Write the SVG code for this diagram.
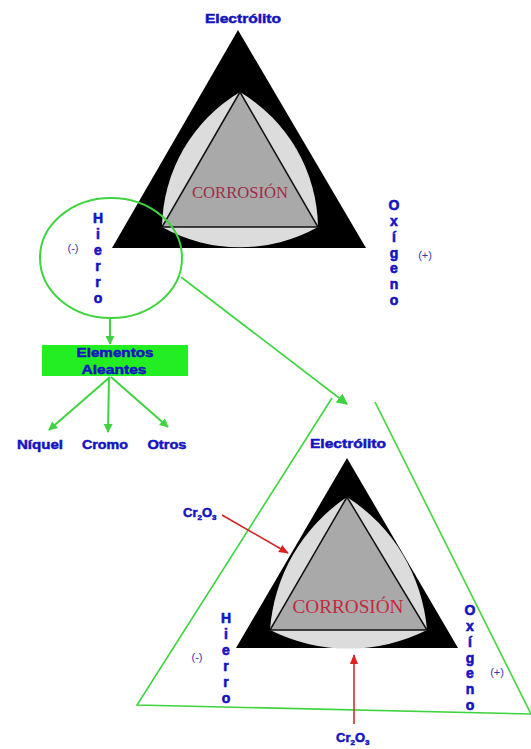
<svg xmlns="http://www.w3.org/2000/svg" width="531" height="749" viewBox="0 0 531 749">
<defs>
<style>
.lbl{font-family:"Liberation Sans",Arial,sans-serif;font-weight:bold;fill:#1414c0;stroke:#1414c0;stroke-width:0.5;font-size:13px}
.v{font-family:"Liberation Sans",Arial,sans-serif;font-weight:bold;fill:#1414c0;stroke:#1414c0;stroke-width:0.6;font-size:14px;text-anchor:middle}
.sign{font-family:"Liberation Sans",Arial,sans-serif;fill:#3535b0;font-size:11px;text-anchor:middle}
.corr{font-family:"Liberation Serif","Times New Roman",serif;text-anchor:middle}
.g{stroke:#3fd43f;fill:none}
.inner{fill:#a9a9a9;stroke:#111;stroke-width:1.5}
.reu{fill:#dcdcdc}
</style>
<marker id="ga" viewBox="0 0 10 10" refX="9" refY="5" markerWidth="9" markerHeight="9" orient="auto" markerUnits="userSpaceOnUse">
<path d="M0,0 L10,5 L0,10 z" fill="#3fd43f"/>
</marker>
<marker id="gb" viewBox="0 0 10 10" refX="9" refY="5" markerWidth="11" markerHeight="11" orient="auto" markerUnits="userSpaceOnUse">
<path d="M0,0 L10,5 L0,10 z" fill="#3fd43f"/>
</marker>
<marker id="ra" viewBox="0 0 10 10" refX="9" refY="5" markerWidth="10" markerHeight="10" orient="auto" markerUnits="userSpaceOnUse">
<path d="M0,1 L10,5 L0,9 z" fill="#e02020"/>
</marker>
</defs>

<g id="triangle-top">
<polygon points="238,30 112,248 366,248" fill="#000"/>
<path class="reu" d="M240,92 A160,160 0 0 0 162,227 A160,160 0 0 0 318,227 A160,160 0 0 0 240,92 Z"/>
<polygon class="inner" points="240,92 162,227 318,227"/>
<text class="corr" x="240" y="198" font-size="16" fill="#9e2c48" textLength="96" lengthAdjust="spacingAndGlyphs">CORROSIÓN</text>
</g>

<g id="label-electrolito-top"><text class="lbl" x="243" y="23" text-anchor="middle" textLength="76" lengthAdjust="spacingAndGlyphs">Electrólito</text></g>

<g id="label-hierro-top">
<text class="v" x="98" y="223">H</text>
<text class="v" x="98" y="239">i</text>
<text class="v" x="98" y="255">e</text>
<text class="v" x="98" y="271">r</text>
<text class="v" x="98" y="287">r</text>
<text class="v" x="98" y="303">o</text>
<text class="sign" x="73" y="252">(-)</text>
</g>

<g id="label-oxigeno-top">
<text class="v" x="394" y="210">O</text>
<text class="v" x="394" y="226">x</text>
<text class="v" x="394" y="242">í</text>
<text class="v" x="394" y="258">g</text>
<text class="v" x="394" y="273">e</text>
<text class="v" x="394" y="289">n</text>
<text class="v" x="394" y="305">o</text>
<text class="sign" x="425" y="259">(+)</text>
</g>

<g id="circle-hierro"><ellipse class="g" cx="111" cy="258" rx="71" ry="60" stroke-width="2"/></g>

<g id="box-elementos">
<rect x="42" y="345" width="146" height="31" fill="#22ee22"/>
<text class="lbl" x="115" y="357" text-anchor="middle" textLength="77" lengthAdjust="spacingAndGlyphs">Elementos</text>
<text class="lbl" x="114" y="374" text-anchor="middle" textLength="65" lengthAdjust="spacingAndGlyphs">Aleantes</text>
</g>

<g id="label-niquel"><text class="lbl" x="40" y="449" text-anchor="middle" textLength="46" lengthAdjust="spacingAndGlyphs">Níquel</text></g>
<g id="label-cromo"><text class="lbl" x="105" y="449" text-anchor="middle" textLength="46" lengthAdjust="spacingAndGlyphs">Cromo</text></g>
<g id="label-otros"><text class="lbl" x="167" y="449" text-anchor="middle" textLength="39" lengthAdjust="spacingAndGlyphs">Otros</text></g>

<g id="triangle-green">
<polyline class="g" stroke-width="1.6" points="332,398 137,705 531,714"/>
<line class="g" stroke-width="1.6" x1="375" y1="402" x2="531" y2="714"/>
</g>

<g id="triangle-bottom">
<polygon points="347,458 236,648 458,648" fill="#000"/>
<path class="reu" d="M347,497 A175,175 0 0 0 270,630 A175,175 0 0 0 427,630 A175,175 0 0 0 347,497 Z"/>
<polygon class="inner" points="347,497 270,630 427,630"/>
<text class="corr" x="348" y="613" font-size="19" fill="#c5283f" textLength="111" lengthAdjust="spacingAndGlyphs">CORROSIÓN</text>
</g>

<g id="label-electrolito-bottom"><text class="lbl" x="348" y="448" text-anchor="middle" textLength="76" lengthAdjust="spacingAndGlyphs">Electrólito</text></g>

<g id="label-hierro-bottom">
<text class="v" x="226" y="623">H</text>
<text class="v" x="226" y="639">i</text>
<text class="v" x="226" y="655">e</text>
<text class="v" x="226" y="671">r</text>
<text class="v" x="226" y="687">r</text>
<text class="v" x="226" y="703">o</text>
<text class="sign" x="197" y="661">(-)</text>
</g>

<g id="label-oxigeno-bottom">
<text class="v" x="470" y="615">O</text>
<text class="v" x="470" y="631">x</text>
<text class="v" x="470" y="647">í</text>
<text class="v" x="470" y="663">g</text>
<text class="v" x="470" y="678">e</text>
<text class="v" x="470" y="694">n</text>
<text class="v" x="470" y="710">o</text>
<text class="sign" x="497" y="676">(+)</text>
</g>

<g id="label-cr2o3-left"><text class="lbl" x="183" y="517" font-size="12">Cr<tspan font-size="8" dy="3">2</tspan><tspan dy="-3">O</tspan><tspan font-size="8" dy="3">3</tspan></text></g>
<g id="label-cr2o3-bottom"><text class="lbl" x="336" y="742" font-size="12">Cr<tspan font-size="8" dy="3">2</tspan><tspan dy="-3">O</tspan><tspan font-size="8" dy="3">3</tspan></text></g>

<g id="connectors">
<line class="g" stroke-width="2" x1="110" y1="318" x2="110" y2="344" marker-end="url(#ga)"/>
<line class="g" stroke-width="2" x1="110" y1="377" x2="49" y2="430" marker-end="url(#ga)"/>
<line class="g" stroke-width="2" x1="109" y1="377" x2="108" y2="432" marker-end="url(#ga)"/>
<line class="g" stroke-width="2" x1="111" y1="377" x2="168" y2="427" marker-end="url(#ga)"/>
<line class="g" stroke-width="1.6" x1="181" y1="277" x2="347" y2="404" marker-end="url(#gb)"/>
<line stroke="#d42020" stroke-width="1.5" x1="222" y1="515" x2="288" y2="553" marker-end="url(#ra)"/>
<line stroke="#d42020" stroke-width="1.5" x1="354" y1="724" x2="354" y2="655" marker-end="url(#ra)"/>
</g>
</svg>
